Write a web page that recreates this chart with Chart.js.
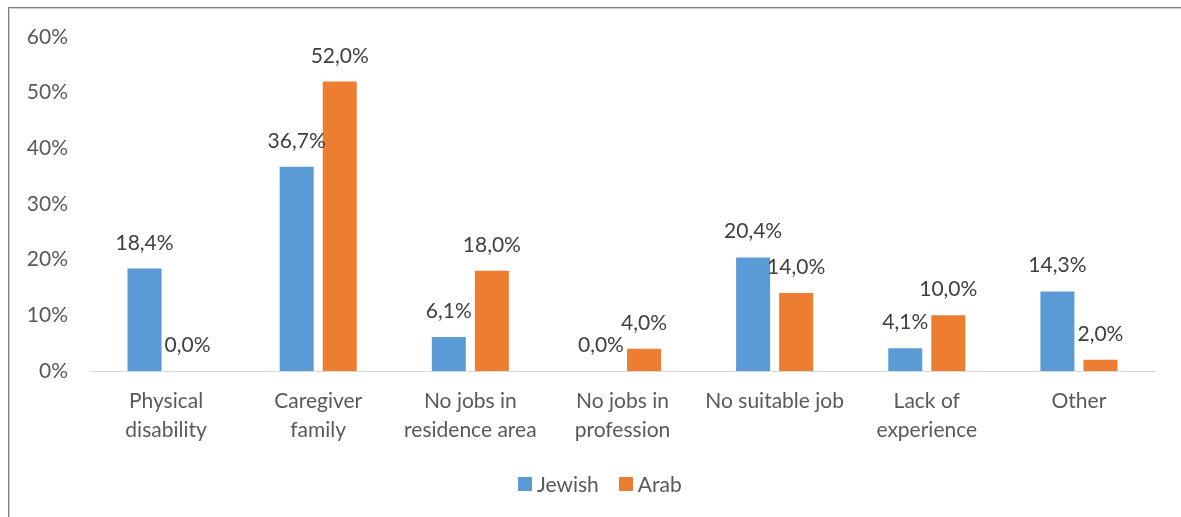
<!DOCTYPE html>
<html>
<head>
<meta charset="utf-8">
<script src="https://cdn.jsdelivr.net/npm/chart.js@4.4.1/dist/chart.umd.min.js"></script>
<style>
  html, body { margin: 0; padding: 0; background: #fff; }
  #wrap { position: relative; width: 1181px; height: 517px; overflow: hidden; font-family: Lato, "Open Sans", sans-serif; }
  #frame {
    position: absolute; left: 8px; top: 7px; right: -4px; bottom: -4px;
    border-top: 1px solid #7f7f7f; border-left: 1px solid #7f7f7f;
    box-shadow: inset 1px 1px 0 #cfcfcf;
  }
  #chart { position: absolute; left: 0; top: 0; }
  #legend { position: absolute; left: 518px; top: 472px; display: flex; align-items: center; font-size: 21px; color: #595959; line-height: 24px; }
  #legend .item { display: flex; align-items: center; margin-right: 20px; }
  #legend .box { width: 14px; height: 14px; margin-right: 5px; }
</style>
</head>
<body>
<div id="wrap">
  <div id="frame"></div>
  <canvas id="chart" width="1181" height="517"></canvas>
  <div id="legend"></div>
</div>
<script>
// categorias e valores (%)
const categories = [
  ['Physical', 'disability'],
  ['Caregiver', 'family'],
  ['No jobs in', 'residence area'],
  ['No jobs in', 'profession'],
  'No suitable job',
  ['Lack of', 'experience'],
  'Other'
];
const jewish = [18.4, 36.7, 6.1, 0.0, 20.4, 4.1, 14.3];
const arab = [0.0, 52.0, 18.0, 4.0, 14.0, 10.0, 2.0];
const yTicks = [0, 10, 20, 30, 40, 50, 60];

const FONT = 'Lato, "Open Sans", sans-serif';
const TEXT = '#595959';

// escreve o valor em cima de cada barra (formato 18,4%)
const valueLabels = {
  id: 'valueLabels',
  afterDatasetsDraw(chart) {
    const ctx = chart.ctx;
    ctx.save();
    ctx.font = '21px ' + FONT;
    ctx.fillStyle = '#404040';
    ctx.textAlign = 'center';
    ctx.textBaseline = 'alphabetic';
    chart.data.datasets.forEach((ds, i) => {
      chart.getDatasetMeta(i).data.forEach((bar, j) => {
        const txt = ds.data[j].toFixed(1).replace('.', ',') + '%';
        ctx.fillText(txt, bar.x, bar.y - 19);
      });
    });
    ctx.restore();
  }
};

const chart = new Chart(document.getElementById('chart'), {
  type: 'bar',
  data: {
    labels: categories,
    datasets: [
      { label: 'Jewish', data: jewish, backgroundColor: '#5b9bd5' },
      { label: 'Arab', data: arab, backgroundColor: '#ed7d31' }
    ]
  },
  options: {
    responsive: false,
    animation: false,
    categoryPercentage: 0.566,
    barPercentage: 0.79,
    layout: { padding: { top: 37, right: 26, bottom: 0, left: 0 } },
    plugins: {
      legend: { display: false },
      tooltip: { enabled: false }
    },
    scales: {
      x: {
        afterFit: (scale) => { scale.height = 146; },
        grid: { display: false, drawTicks: false },
        border: { color: '#d9d9d9', width: 1 },
        ticks: {
          color: TEXT, padding: 16, maxRotation: 0, autoSkip: false,
          font: { family: FONT, size: 21, lineHeight: 1.38 }
        }
      },
      y: {
        min: 0, max: 60,
        afterFit: (scale) => { scale.width = 90; },
        afterBuildTicks: (scale) => { scale.ticks = yTicks.map(v => ({ value: v })); },
        grid: { display: false, drawTicks: false },
        border: { display: false },
        ticks: {
          color: TEXT, padding: 22,
          font: { family: FONT, size: 21 },
          callback: (v) => v + '%'
        }
      }
    }
  },
  plugins: [valueLabels]
});

// legenda em HTML, com as cores dos datasets
const legend = document.getElementById('legend');
chart.data.datasets.forEach(ds => {
  const item = document.createElement('span');
  item.className = 'item';
  item.innerHTML = '<span class="box" style="background:' + ds.backgroundColor + '"></span>' + ds.label;
  legend.appendChild(item);
});
</script>
</body>
</html>
